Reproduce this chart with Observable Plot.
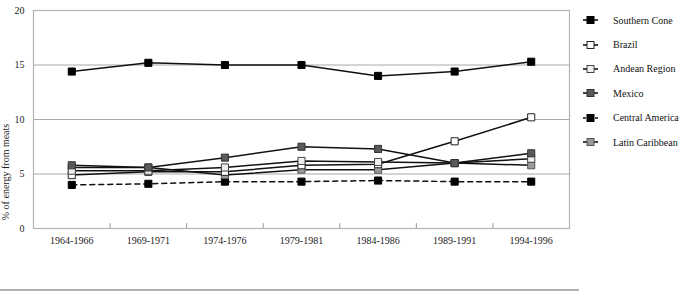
<!DOCTYPE html>
<html><head><meta charset="utf-8">
<script src="https://cdn.jsdelivr.net/npm/d3@7"></script>
<script src="https://cdn.jsdelivr.net/npm/@observablehq/plot@0.6"></script>
<style>
body{margin:0;background:#fff;}
#wrap{position:relative;width:680px;height:294px;font-family:"Liberation Serif",serif;}
#legend{position:absolute;left:582px;top:8px;font-size:10px;color:#111;}
#legend .row{height:24.4px;display:flex;align-items:center;white-space:nowrap;}
#legend svg{margin-right:9px;}
</style></head><body><div id="wrap"></div>
<script>
const periods = ["1964-1966","1969-1971","1974-1976","1979-1981","1984-1986","1989-1991","1994-1996"];
const seriesNames = ["Southern Cone","Brazil","Andean Region","Mexico","Central America","Latin Caribbean"];
const southernCone   = [14.4, 15.2, 15.0, 15.0, 14.0, 14.4, 15.3];
const brazil         = [4.9, 5.2, 5.2, 5.8, 5.9, 8.0, 10.2];
const andeanRegion   = [5.3, 5.3, 5.6, 6.2, 6.1, 6.0, 6.4];
const mexico         = [5.8, 5.6, 6.5, 7.5, 7.3, 6.0, 6.9];
const centralAmerica = [4.0, 4.1, 4.3, 4.3, 4.4, 4.3, 4.3];
const latinCaribbean = [5.6, 5.6, 4.9, 5.4, 5.4, 6.0, 5.8];
const yTicks = [0, 5, 10, 15, 20];

const values = [southernCone, brazil, andeanRegion, mexico, centralAmerica, latinCaribbean];
const styles = [
  {fill:"#000", stroke:"#000", dash:null},
  {fill:"#fff", stroke:"#222", dash:null},
  {fill:"#efefef", stroke:"#444", dash:null},
  {fill:"#595959", stroke:"#333", dash:null},
  {fill:"#000", stroke:"#000", dash:"5,4"},
  {fill:"#9a9a9a", stroke:"#555", dash:null}
];
const rows = [];
seriesNames.forEach((s, k) => values[k].forEach((v, i) => rows.push({series: s, k, i, value: v})));
const boundaries = periods.slice(1).map((_, i) => i + 0.5);

const marks = [
  Plot.ruleY([5, 10, 15], {stroke: "#a8a8a8", strokeWidth: 1}),
  Plot.ruleX(boundaries, {x: d => d, y1: 0, y2: 0.45, stroke: "#999"}),
  Plot.frame({stroke: "#b4b4b4", strokeWidth: 1.2}),
  Plot.axisY({ticks: yTicks, tickSize: 0, tickPadding: 9, label: null}),
  Plot.axisX({ticks: periods.map((_, i) => i), tickFormat: i => periods[i], tickSize: 0, tickPadding: 8, label: null})
];
const drawOrder = [4, 5, 1, 2, 3, 0];
for (const k of drawOrder) {
  const data = rows.filter(r => r.k === k);
  marks.push(Plot.line(data, {x: "i", y: "value", stroke: "#111", strokeWidth: 1.5, strokeDasharray: styles[k].dash}));
}
for (const k of drawOrder) {
  const data = rows.filter(r => r.k === k);
  marks.push(Plot.dot(data, {x: "i", y: "value", symbol: "square", r: 4, fill: styles[k].fill, stroke: styles[k].stroke, strokeWidth: 1}));
}

const chart = Plot.plot({
  width: 680, height: 294,
  marginLeft: 33, marginRight: 111, marginTop: 10, marginBottom: 66,
  style: {fontFamily: "Liberation Serif", fontSize: "10px", color: "#222", background: "#fff"},
  x: {type: "linear", domain: [-0.5, 6.5], axis: null},
  y: {domain: [0, 20], axis: null},
  marks
});
const svg = d3.select(chart);
svg.append("text")
  .attr("transform", "translate(9,172) rotate(-90)")
  .attr("text-anchor", "middle")
  .attr("font-size", 10)
  .attr("fill", "#222")
  .text("% of energy from meats");
svg.append("line").attr("x1", 0).attr("x2", 579).attr("y1", 290).attr("y2", 290)
  .attr("stroke", "#999").attr("stroke-width", 1.5);

const wrap = document.getElementById("wrap");
wrap.appendChild(chart);
const legend = document.createElement("div");
legend.id = "legend";
seriesNames.forEach((s, k) => {
  const row = document.createElement("div");
  row.className = "row";
  const st = styles[k];
  row.innerHTML = `<svg width="22" height="10"><line x1="1" x2="16" y1="5" y2="5" stroke="#111" stroke-width="1.6" ${st.dash ? 'stroke-dasharray="3,3"' : ''}/><rect x="5" y="1.5" width="7" height="7" fill="${st.fill}" stroke="${st.stroke}"/></svg><span>${s}</span>`;
  legend.appendChild(row);
});
wrap.appendChild(legend);
</script></body></html>
